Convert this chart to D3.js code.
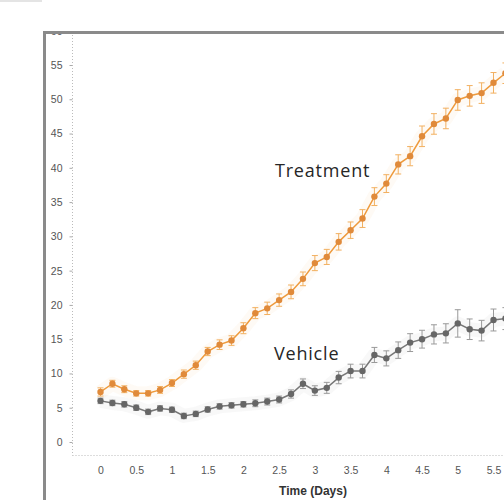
<!DOCTYPE html>
<meta charset="utf-8">
<script src="https://d3js.org/d3.v7.min.js"></script>

<style>
  body { margin: 0; background: #fff; }
  .tick text { font-family: "Liberation Sans Narrow", "Liberation Sans", sans-serif; fill: #555; }
</style>

<body>
  <div id="chart"></div>
</body>

<script>
// time points, hours after dosing (every 4 h)
var hours = [0, 4, 8, 12, 16, 20, 24, 28, 32, 36, 40, 44, 48, 52, 56, 60, 64, 68,
             72, 76, 80, 84, 88, 92, 96, 100, 104, 108, 112, 116, 120, 124, 128, 132, 136]

// mean values
var treatment = [7.3, 8.5, 7.7, 7.1, 7.1, 7.6, 8.6, 9.9, 11.2, 13.2, 14.2, 14.8, 16.6, 18.8, 19.5, 20.7, 21.9, 23.8,
                 26.1, 27.0, 29.2, 30.9, 32.6, 35.8, 37.7, 40.5, 41.7, 44.6, 46.4, 47.2, 49.9, 50.5, 50.9, 52.4, 53.8]
var vehicle = [6.0, 5.7, 5.5, 5.0, 4.4, 4.9, 4.7, 3.8, 4.1, 4.75, 5.2, 5.35, 5.5, 5.65, 5.9, 6.2, 7.0, 8.5,
               7.5, 7.9, 9.4, 10.35, 10.35, 12.7, 12.2, 13.4, 14.5, 15.0, 15.7, 15.85, 17.3, 16.45, 16.25, 17.8, 18.0]

// error bar half-lengths
var trtErr = [0.6, 0.5, 0.5, 0.4, 0.4, 0.5, 0.5, 0.6, 0.6, 0.6, 0.7, 0.7, 0.8, 0.8, 0.9, 0.9, 1.0, 1.0,
              1.1, 1.1, 1.2, 1.2, 1.3, 1.3, 1.3, 1.4, 1.4, 1.5, 1.5, 1.5, 1.5, 1.5, 1.5, 1.5, 1.5]
var vehErr = [0.4, 0.4, 0.4, 0.4, 0.4, 0.4, 0.4, 0.4, 0.4, 0.4, 0.4, 0.4, 0.4, 0.5, 0.5, 0.5, 0.6, 0.7,
              0.7, 0.8, 0.9, 1.0, 1.0, 1.1, 1.1, 1.2, 1.3, 1.3, 1.4, 1.4, 2.0, 1.5, 1.5, 1.6, 1.6]

var xTicks = [0, 0.5, 1, 1.5, 2, 2.5, 3, 3.5, 4, 4.5, 5, 5.5]
var yTicks = [0, 5, 10, 15, 20, 25, 30, 35, 40, 45, 50, 55, 60]

var width = 504, height = 500

var svg = d3.select("#chart")
  .append("svg")
  .attr("width", width)
  .attr("height", height)

// scales (x in days)
var x = d3.scaleLinear()
  .domain([0, 5.5])
  .range([100.5, 493.5])

var y = d3.scaleLinear()
  .domain([0, 55])
  .range([442, 65])

// clip to the inside of the frame
svg.append("clipPath").attr("id", "inner")
  .append("rect").attr("x", 46).attr("y", 34).attr("width", 460).attr("height", 470)

var g = svg.append("g").attr("clip-path", "url(#inner)")

// y axis
var yAxis = g.append("g")
  .attr("transform", "translate(72.5,0)")
  .call(d3.axisLeft(y).tickValues(yTicks).tickSize(3).tickPadding(7))
yAxis.select(".domain").remove()
yAxis.selectAll(".tick line").attr("stroke", "#aaa")
yAxis.selectAll(".tick text").attr("font-size", 10.5)

g.append("line")
  .attr("x1", 72.5).attr("x2", 72.5)
  .attr("y1", 32).attr("y2", 455.5)
  .attr("stroke", "#bbb")
  .attr("stroke-dasharray", "1,2")

// x axis
var xAxis = g.append("g")
  .attr("transform", "translate(0,455.5)")
  .call(d3.axisBottom(x).tickValues(xTicks).tickSize(0).tickPadding(11)
    .tickFormat(function(d){ return d }))
xAxis.select(".domain").remove()
xAxis.selectAll(".tick text").attr("font-size", 10.5)

g.append("line")
  .attr("x1", 72.5).attr("x2", width)
  .attr("y1", 455.5).attr("y2", 455.5)
  .attr("stroke", "#bbb")
  .attr("stroke-dasharray", "1,2")

svg.append("text")
  .attr("x", 313)
  .attr("y", 495)
  .attr("text-anchor", "middle")
  .attr("font-family", "Liberation Sans, Arial, sans-serif")
  .attr("font-weight", "bold")
  .attr("font-size", 12)
  .attr("fill", "#333")
  .text("Time (Days)")

// draw one series with error bars
var drawSeries = function(vals, errs, lineColor, barColor, dotColor) {
  var pts = hours.map(function(h, i){ return {t: h / 24, v: vals[i], e: errs[i]} })
  var line = d3.line()
    .x(function(d){ return x(d.t) })
    .y(function(d){ return y(d.v) })

  // soft halo under the line
  g.append("path").datum(pts)
    .attr("d", line)
    .attr("fill", "none")
    .attr("stroke", lineColor)
    .attr("stroke-opacity", 0.05)
    .attr("stroke-width", 14)
    .attr("stroke-linejoin", "round")

  var eb = g.append("g").selectAll("g")
    .data(pts)
    .enter().append("g")
    .attr("stroke", barColor)
    .attr("stroke-width", 1)
  eb.append("line")
    .attr("x1", function(d){ return x(d.t) })
    .attr("x2", function(d){ return x(d.t) })
    .attr("y1", function(d){ return y(d.v - d.e) })
    .attr("y2", function(d){ return y(d.v + d.e) })
  eb.append("line")
    .attr("x1", function(d){ return x(d.t) - 3 })
    .attr("x2", function(d){ return x(d.t) + 3 })
    .attr("y1", function(d){ return y(d.v + d.e) })
    .attr("y2", function(d){ return y(d.v + d.e) })
  eb.append("line")
    .attr("x1", function(d){ return x(d.t) - 3 })
    .attr("x2", function(d){ return x(d.t) + 3 })
    .attr("y1", function(d){ return y(d.v - d.e) })
    .attr("y2", function(d){ return y(d.v - d.e) })

  g.append("path").datum(pts)
    .attr("d", line)
    .attr("fill", "none")
    .attr("stroke", lineColor)
    .attr("stroke-width", 1.5)

  g.append("g").selectAll("circle")
    .data(pts)
    .enter().append("circle")
    .attr("cx", function(d){ return x(d.t) })
    .attr("cy", function(d){ return y(d.v) })
    .attr("r", 3.2)
    .attr("fill", dotColor)
}

drawSeries(vehicle, vehErr, "#777", "#999", "#666")
drawSeries(treatment, trtErr, "#ee9a3c", "#f2b060", "#e08a3a")

// series labels
svg.append("text")
  .attr("x", 275).attr("y", 177)
  .attr("font-family", "Open Sans, sans-serif")
  .attr("font-size", 18)
  .attr("letter-spacing", 0.8)
  .attr("fill", "#262626")
  .text("Treatment")

svg.append("text")
  .attr("x", 274).attr("y", 360)
  .attr("font-family", "Open Sans, sans-serif")
  .attr("font-size", 18)
  .attr("letter-spacing", 0.8)
  .attr("fill", "#262626")
  .text("Vehicle")

// outer frame
svg.append("rect")
  .attr("x", 44.5).attr("y", 32.5)
  .attr("width", 480).attr("height", 500)
  .attr("fill", "none")
  .attr("stroke", "#8a8a8a")
  .attr("stroke-width", 3)

svg.append("rect")
  .attr("x", 0).attr("y", 0)
  .attr("width", 42).attr("height", 2)
  .attr("fill", "#e4e4e4")
</script>
